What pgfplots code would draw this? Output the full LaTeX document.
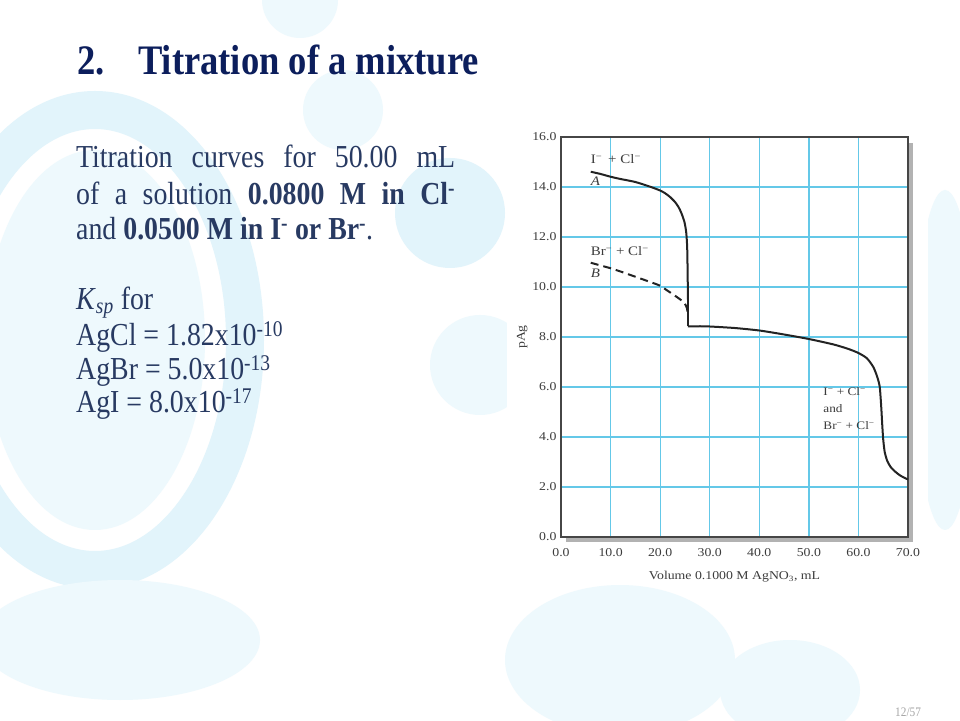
\documentclass[border=0pt]{standalone}
\usepackage{pgfplots}
\pgfplotsset{compat=1.18}
\usepackage{fontspec}
\setmainfont{Liberation Serif}[FakeStretch=0.87]
\newfontfamily\chartfont{Liberation Serif}[FakeStretch=1.15]
\definecolor{titleblue}{RGB}{12,30,92}
\definecolor{bodyblue}{RGB}{40,58,98}
\definecolor{gridblue}{RGB}{100,200,232}
\definecolor{framegray}{RGB}{70,70,70}
\definecolor{shadowgray}{RGB}{178,178,178}
\definecolor{curvecol}{RGB}{35,35,35}
\definecolor{chartText}{RGB}{60,60,60}
\definecolor{bub}{RGB}{226,244,251}
\definecolor{bub2}{RGB}{238,249,253}
\newcommand{\sm}{\textsuperscript{\char"2212}}
\begin{document}
\begin{tikzpicture}[x=1pt,y=1pt]
\useasboundingbox (0,0) rectangle (960,720);
\begin{scope}
\clip (0,0) rectangle (960,720);
\fill[white] (0,0) rectangle (960,720);
% decorative background bubbles
\fill[bub2] (300,720) circle (38);
\fill[bub2] (343,610) circle (40);
\fill[bub] (450,507) circle (55);
\fill[bub2] (480,355) circle (50);
\draw[bub, line width=38pt] (95,380) ellipse (150 and 230);
\fill[bub2] (95,380) ellipse (110 and 190);
\fill[bub2] (945,360) ellipse (30 and 170);
\fill[bub2] (620,60) ellipse (115 and 75);
\fill[bub2] (790,30) ellipse (70 and 50);
\fill[bub2] (120,80) ellipse (140 and 60);
% chart panel
\fill[white] (507,135) rectangle (928,602);
% shadow
\fill[shadowgray] (566,178) rectangle (913,577);
\end{scope}
% title
\node[anchor=base west, inner sep=0, text=titleblue, font=\fontsize{42}{48}\selectfont\bfseries] at (77,645) {2.};
\node[anchor=base west, inner sep=0, text=titleblue, font=\fontsize{42}{48}\selectfont\bfseries] at (138,645) {Titration of a mixture};
% body text
\begin{scope}[every node/.style={anchor=base west, inner sep=0, text=bodyblue, font=\fontsize{32}{38}\selectfont}]
\node at (76,552) {\makebox[379pt][s]{Titration curves for 50.00 mL}};
\node at (76,515) {\makebox[379pt][s]{of a solution \textbf{0.0800 M in Cl}\textsuperscript{\textbf{-}}}};
\node at (76,480) {and \textbf{0.0500 M in I\textsuperscript{-} or Br\textsuperscript{-}}.};
\node at (76,410) {\textit{K}\textsubscript{\textit{sp}} for};
\node at (76,374) {AgCl = 1.82x10\textsuperscript{-10}};
\node at (76,340) {AgBr = 5.0x10\textsuperscript{-13}};
\node at (76,307) {AgI = 8.0x10\textsuperscript{-17}};
\end{scope}
\node[anchor=base west, inner sep=0, text=gray!70, font=\fontsize{13}{15}\selectfont] at (895,4) {12/57};
% chart
\begin{axis}[
  at={(561pt,183pt)}, anchor=south west, scale only axis,
  width=347pt, height=400pt,
  xmin=0, xmax=70, ymin=0, ymax=16,
  xtick={0,10,...,70}, ytick={0,2,...,16},
  grid=major,
  major grid style={color=gridblue, line width=1.3pt},
  major tick length=0pt,
  axis line style={draw=framegray, line width=1.6pt},
  axis background/.style={fill=white},
  tick label style={font=\chartfont\fontsize{12}{14}\selectfont, text=chartText},
  /pgf/number format/fixed,
  /pgf/number format/fixed zerofill,
  /pgf/number format/precision=1,
  /pgf/number format/assume math mode=true,
  xticklabel style={yshift=-8pt},
  yticklabel style={xshift=-1pt},
  xlabel={Volume 0.1000 M AgNO\textsubscript{3}, mL},
  ylabel={pAg},
  label style={font=\chartfont\fontsize{12}{14}\selectfont, text=chartText},
  xlabel style={yshift=-8pt},
  ylabel style={yshift=-2pt},
  clip=false,
]
\addplot[curvecol, line width=2pt, smooth, tension=0.4] coordinates {
(6,14.61) (8,14.52) (10,14.41) (12,14.32) (15,14.20) (18,14.01) (20,13.86) (21,13.75) (22,13.6) (23,13.4) (23.7,13.2) (24.3,12.95) (24.9,12.6) (25.25,12.2) (25.45,11.6) (25.55,10.5) (25.6,9.5)
};
\addplot[curvecol, line width=2pt] coordinates {
(25.6,9.5) (25.6,8.42)
};
\addplot[curvecol, line width=2pt, smooth, tension=0.4] coordinates {
(25.6,8.42) (28,8.43) (30,8.42) (35,8.36) (40,8.26) (45,8.1) (50,7.92) (55,7.7) (58,7.52) (60,7.36) (61.7,7.15) (63,6.8) (63.8,6.4) (64.3,6.0) (64.6,5.2) (64.8,4.5) (65.0,3.9) (65.3,3.4) (65.8,3.05) (66.5,2.8) (67.5,2.6) (68.5,2.45) (70,2.3)
};
\addplot[curvecol, line width=2pt, dash pattern=on 8pt off 5pt, smooth, tension=0.4] coordinates {
(6,10.97) (8,10.86) (10,10.75) (12,10.62) (15,10.41) (18,10.2) (20,10.05) (21.5,9.85) (23.3,9.61) (24.4,9.45) (25.0,9.33) (25.4,9.15) (25.6,8.9)
};
\node[anchor=base west, inner sep=0, font=\chartfont\fontsize{13}{15}\selectfont, text=chartText] at (axis cs:6,14.93) {I\sm{} \,+ Cl\sm};
\node[anchor=base west, inner sep=0, font=\chartfont\fontsize{13}{15}\selectfont\itshape, text=chartText] at (axis cs:6,14.07) {A};
\node[anchor=base west, inner sep=0, font=\chartfont\fontsize{13}{15}\selectfont, text=chartText] at (axis cs:6,11.24) {Br\sm{} + Cl\sm};
\node[anchor=base west, inner sep=0, font=\chartfont\fontsize{13}{15}\selectfont\itshape, text=chartText] at (axis cs:6,10.38) {B};
\node[anchor=base west, inner sep=0, font=\chartfont\fontsize{11.5}{13}\selectfont, text=chartText] at (axis cs:52.9,5.64) {I\sm{} + Cl\sm};
\node[anchor=base west, inner sep=0, font=\chartfont\fontsize{11.5}{13}\selectfont, text=chartText] at (axis cs:52.9,4.96) {and};
\node[anchor=base west, inner sep=0, font=\chartfont\fontsize{11.5}{13}\selectfont, text=chartText] at (axis cs:52.9,4.28) {Br\sm{} + Cl\sm};
\end{axis}
\end{tikzpicture}
\end{document}
